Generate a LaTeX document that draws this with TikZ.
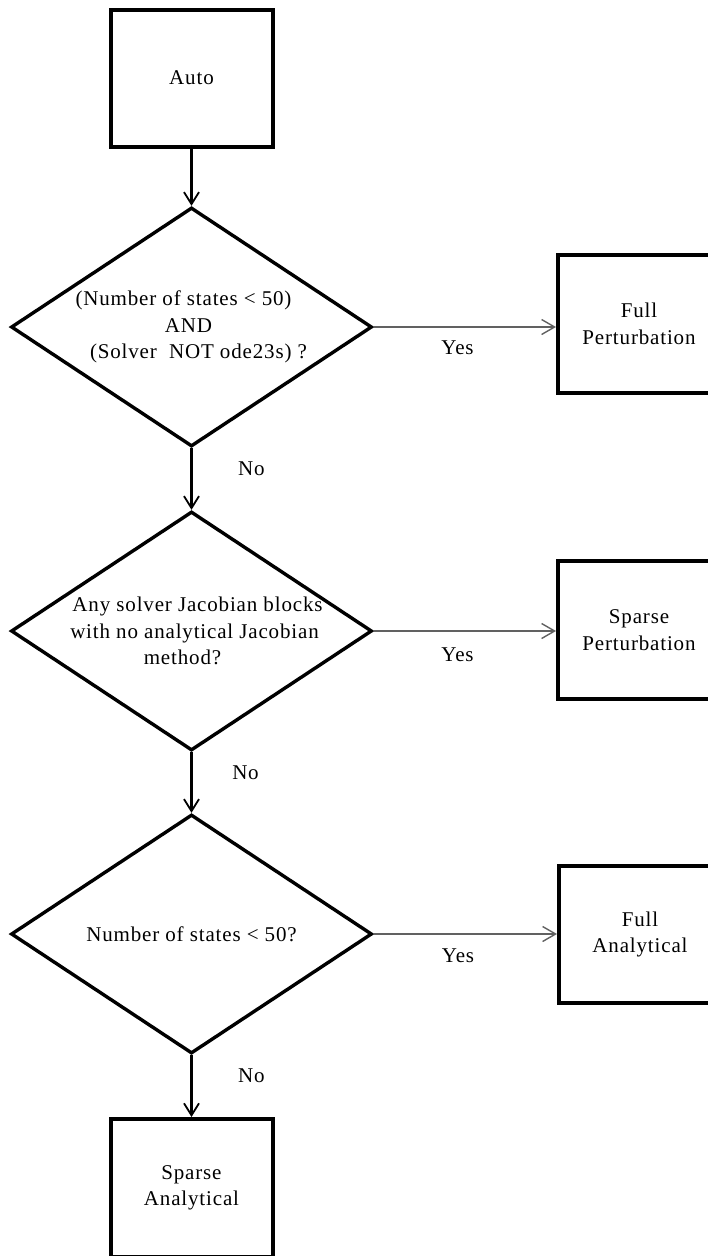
\documentclass[tikz,border=0pt]{standalone}
\usepackage{fontspec}
\setmainfont[LetterSpace=4]{Liberation Serif}
\usetikzlibrary{shapes.geometric,arrows.meta}
% a centred line of zero width, so the diamond keeps its own size
\newcommand{\dline}[1]{\makebox[0pt]{#1}}
\begin{document}
\begin{tikzpicture}[x=1pt,y=-1pt,
  every node/.style={font=\fontsize{21}{26.5}\selectfont},
  box/.style={draw, line width=4pt, minimum width=162pt, minimum height=137pt,
    inner sep=0pt, align=center},
  decision/.style={draw, diamond, line width=3.4pt, minimum width=361pt,
    minimum height=239pt, inner sep=0pt, shape aspect=1.51, align=center},
  flow/.style={line width=2.6pt, -{Straight Barb[length=12pt,width=15pt,line width=1.8pt]}},
  branch/.style={draw=black!62, line width=1.4pt, -{Straight Barb[length=13pt,width=15pt]}},
  lbl/.style={inner sep=0pt}
]
\useasboundingbox (0,0) rectangle (708,1256);

% main column
\node[box] (auto) at (191.5,78) {Auto};
\node[decision] (d1) at (191.5,327)
  {\dline{(Number of states < 50)\hspace*{16pt}}\\
   \dline{AND\hspace*{6pt}}\\
   \dline{\hspace*{14pt}(Solver\ \ NOT ode23s) ?}};
\node[decision] (d2) at (191.5,631)
  {\dline{\hspace*{12pt}Any solver Jacobian blocks}\\
   \dline{\hspace*{6pt}with no analytical Jacobian}\\
   \dline{method?\hspace*{18pt}}};
\node[decision] (d3) at (191.5,934) {Number of states < 50?};
\node[box, minimum height=138pt] (sa) at (191.5,1188) {Sparse\\Analytical};

% outcome column
\node[box, minimum height=138pt] (fp) at (639,324) {Full\\Perturbation};
\node[box, minimum height=138pt] (sp) at (639,630) {Sparse\\Perturbation};
\node[box, minimum height=137pt] (fa) at (640,934.5) {Full\\Analytical};

% "No" branches
\draw[flow] (auto.south) -- (d1.north);
\draw[flow] (d1.south) -- node[lbl, pos=0.33, xshift=60pt] {No} (d2.north);
\draw[flow] (d2.south) -- node[lbl, pos=0.34, xshift=54pt] {No} (d3.north);
\draw[flow] (d3.south) -- node[lbl, pos=0.34, xshift=60pt] {No} (sa.north);

% "Yes" branches
\draw[branch] (d1.east) -- node[lbl, pos=0.46, yshift=-21pt] {Yes} (d1.east -| fp.west);
\draw[branch] (d2.east) -- node[lbl, pos=0.46, yshift=-24pt] {Yes} (d2.east -| sp.west);
\draw[branch] (d3.east) -- node[lbl, pos=0.46, yshift=-22pt] {Yes} (d3.east -| fa.west);
\end{tikzpicture}
\end{document}
